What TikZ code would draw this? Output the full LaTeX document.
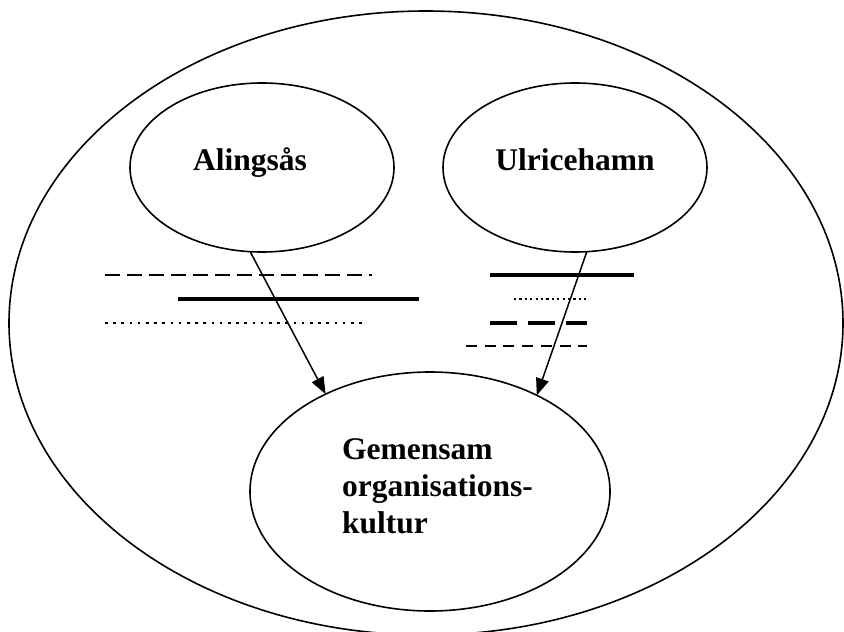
\documentclass[tikz,border=0pt]{standalone}
\usepackage{fontspec}
\setmainfont{Liberation Serif}
\usetikzlibrary{shapes.geometric,arrows.meta}
\begin{document}
\begin{tikzpicture}[x=1pt,y=-1pt,
  oval/.style={draw,ellipse,line width=1.6pt,inner sep=0pt,outer sep=0pt},
  lbl/.style={font=\bfseries\fontsize{31.5}{37}\selectfont,inner sep=0pt},
  conn/.style={line width=1.5pt,-{Triangle[length=17pt,width=13pt]}},
  hatch/.style={line cap=butt}]
\useasboundingbox (0,0) rectangle (844,632);
\node[oval,minimum width=834pt,minimum height=624pt] (outer) at (426,323) {};
\node[oval,minimum width=264pt,minimum height=169pt] (al) at (262,167.5) {};
\node[oval,minimum width=264pt,minimum height=169pt] (ul) at (575,167.5) {};
\node[oval,minimum width=360pt,minimum height=239pt] (gem) at (430,491.5) {};
\node[lbl,anchor=base] (altxt) at (250,170) {Alingsås};
\node[lbl,anchor=base] (ultxt) at (575,170) {Ulricehamn};
\node[lbl,anchor=base west,align=left] (gemtxt) at (342,533) {Gemensam\\organisations-\\kultur};
% Alingsås lines
\draw[hatch,line width=2pt,dash pattern=on 15pt off 7pt] (105,275) -- (372,275);
\draw[hatch,line width=4.8pt] (178,299) -- (419,299);
\draw[hatch,line width=2.6pt,dash pattern=on 2.6pt off 5.6pt] (105,323) -- (367,323);
% Ulricehamn lines
\draw[hatch,line width=4.2pt] (490,275) -- (634,275);
\draw[hatch,line width=2.2pt,dash pattern=on 2.2pt off 3.2pt] (514,299) -- (587,299);
\draw[hatch,line width=3.6pt,dash pattern=on 27pt off 11pt] (490,323) -- (587,323);
\draw[hatch,line width=2.8pt,dash pattern=on 11pt off 7.7pt] (466,346) -- (587,346);
% connectors
\draw[conn] (al.-98) -- (gem.137);
\draw[conn] (ul.-82) -- (gem.42);
\end{tikzpicture}
\end{document}
